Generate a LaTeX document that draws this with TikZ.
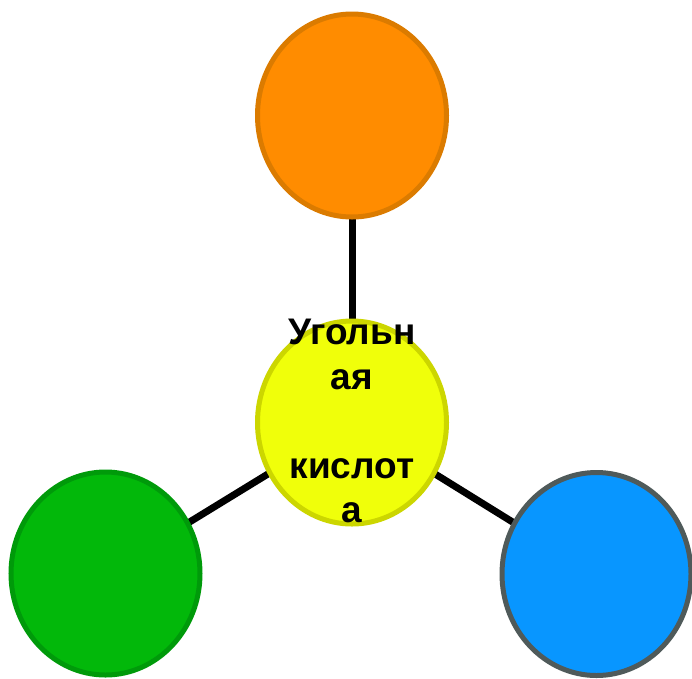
\documentclass[tikz,border=0pt]{standalone}
\usepackage{fontspec}
\setmainfont{Liberation Sans}
\usetikzlibrary{shapes.geometric,backgrounds}
\definecolor{orfill}{RGB}{255,140,0}
\definecolor{ordraw}{RGB}{219,123,0}
\definecolor{yefill}{RGB}{240,255,10}
\definecolor{yedraw}{RGB}{204,214,0}
\definecolor{grfill}{RGB}{2,184,10}
\definecolor{grdraw}{RGB}{0,154,10}
\definecolor{blfill}{RGB}{8,150,255}
\definecolor{bldraw}{RGB}{79,90,90}
\tikzset{
  blob/.style={ellipse, line width=5pt, minimum width=189pt, minimum height=203pt, inner sep=0pt},
  link/.style={line width=7pt, black},
  title/.style={font=\bfseries\fontsize{37}{44.5}\selectfont, align=center, inner sep=0pt}
}
\begin{document}
\begin{tikzpicture}[x=1pt,y=-1pt]
\useasboundingbox (0,0) rectangle (692,678);
\node[blob, fill=orfill, draw=ordraw] (top) at (352,115.5) {};
\node[blob, fill=yefill, draw=yedraw] (mid) at (352,422.5) {};
\node[blob, fill=grfill, draw=grdraw] (left) at (105.5,573.5) {};
\node[blob, fill=blfill, draw=bldraw] (right) at (596.5,574) {};
\begin{scope}[on background layer]
\draw[link] (mid.center) -- (top.center);
\draw[link] (mid.center) -- (left.center);
\draw[link] (mid.center) -- (right.center);
\end{scope}
\node[title, anchor=north] (lbl) at (352,319) {Угольн\\ая\\[44.5pt]кислот\\а};
\end{tikzpicture}
\end{document}
